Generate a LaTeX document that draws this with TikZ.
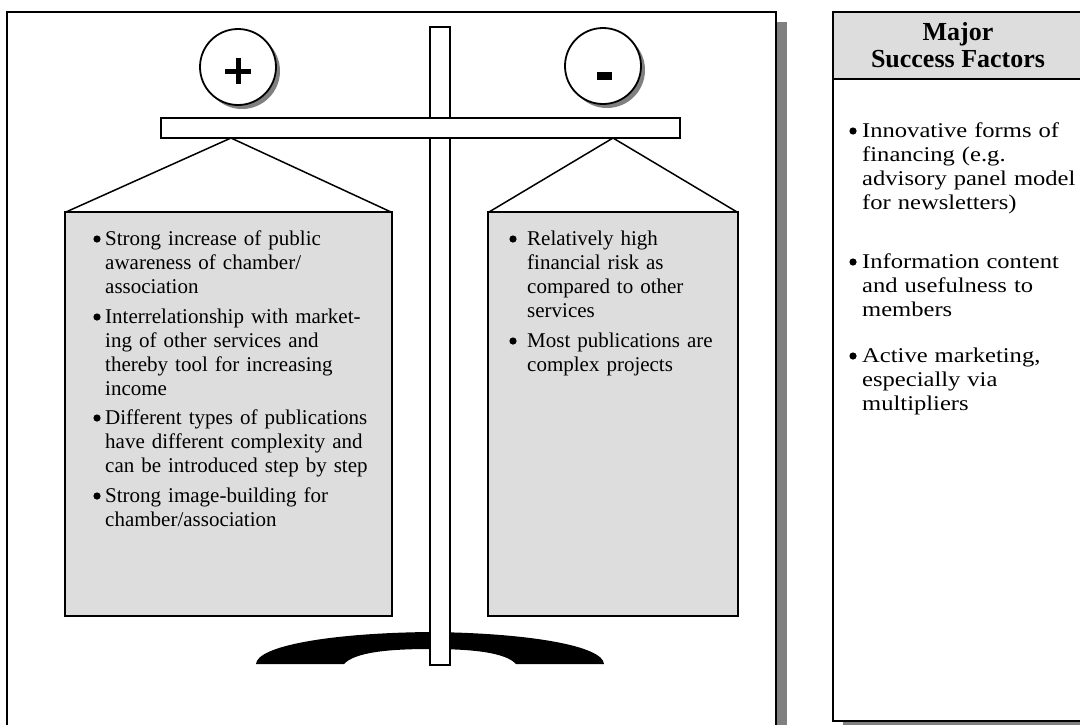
\documentclass[tikz,border=0pt]{standalone}
\usepackage{fontspec}
\setmainfont{Liberation Serif}
\newfontfamily\sidefont[FakeStretch=1.17]{Liberation Serif}
\definecolor{panelgray}{HTML}{DDDDDD}
\definecolor{shadowgray}{HTML}{808080}
\tikzset{
  outline/.style={draw=black, line width=1.8pt},
  rope/.style={draw=black, line width=1.5pt},
  itemtext/.style={anchor=base west, inner sep=0pt, text width=#1, align=left,
    font=\fontsize{21}{24.3}\selectfont},
  sidetext/.style={anchor=base west, inner sep=0pt, text width=#1, align=left,
    font=\sidefont\fontsize{21}{24.3}\selectfont},
  dot/.style={fill=black},
}
\newcommand{\bulletat}[2]{\fill[dot] (#1,#2) circle (3.6pt);}
\begin{document}
\begin{tikzpicture}[x=1pt,y=-1pt]
\clip (0,0) rectangle (1080,724);

% ---- left frame with drop shadow
\fill[shadowgray] (776,22) rectangle (787,740);
\draw[outline, fill=white] (7,12) rectangle (776,740);

% ---- sign circles
\fill[shadowgray] (242,71) circle (38);
\draw[outline, fill=white] (238,67) circle (38);
\draw[line width=5pt] (225,71) -- (251,71);
\draw[line width=5pt] (238,58) -- (238,84);
\fill[shadowgray] (607,70) circle (38);
\draw[outline, fill=white] (603,66) circle (38);
\fill (597,72) rectangle (612,80);

% ---- scale: foot, pole, beam
\fill (256,664) .. controls (257,646) and (330,633) .. (430,632)
  .. controls (530,633) and (603,646) .. (604,664)
  -- (516,664) .. controls (505,652) and (470,649) .. (430,649)
  .. controls (390,649) and (355,652) .. (344,664) -- cycle;
\draw[outline, fill=white] (430,27) rectangle (450,665);
\draw[outline, fill=white] (161,118) rectangle (680,138);

% ---- ropes
\coordinate (hookL) at (231,138);
\coordinate (hookR) at (613,138);
\draw[rope] (hookL) -- (66,212);
\draw[rope] (hookL) -- (391,212);
\draw[rope] (hookR) -- (489,212);
\draw[rope] (hookR) -- (737,212);

% ---- pans
\draw[outline, fill=panelgray] (65,212) rectangle (392,616);
\draw[outline, fill=panelgray] (488,212) rectangle (738,616);

% left pan items
\bulletat{97}{239}
\node[itemtext=285] (p1) at (105,245) {Strong increase of public\\awareness of chamber/\\association};
\bulletat{97}{317}
\node[itemtext=285] (p2) at (105,323) {Interrelationship with market-\\ing of other services and\\thereby tool for increasing\\income};
\bulletat{97}{418}
\node[itemtext=285] (p3) at (105,424) {Different types of publications\\have different complexity and\\can be introduced step by step};
\bulletat{97}{496}
\node[itemtext=285] (p4) at (105,502) {Strong image-building for\\chamber/association};

% right pan items
\bulletat{513}{239}
\node[itemtext=205] (m1) at (527,245) {Relatively high\\financial risk as\\compared to other\\services};
\bulletat{513}{341}
\node[itemtext=205] (m2) at (527,347) {Most publications are\\complex projects};

% ---- side panel
\fill[shadowgray] (843,721) rectangle (1090,725);
\fill[panelgray] (833,12) rectangle (1090,79);
\draw[outline] (833,79) -- (1090,79);
\draw[outline] (833,12) rectangle (1090,721);
\node[align=center, inner sep=0pt, font=\fontsize{26}{27}\selectfont\bfseries] (head) at (958,45) {Major\\Success Factors};

\bulletat{853}{131}
\node[sidetext=260] (f1) at (862,137) {Innovative forms of\\financing (e.g.\\advisory panel model\\for newsletters)};
\bulletat{853}{262}
\node[sidetext=260] (f2) at (862,268) {Information content\\and usefulness to\\members};
\bulletat{853}{356}
\node[sidetext=260] (f3) at (862,362) {Active marketing,\\especially via\\multipliers};
\end{tikzpicture}
\end{document}
